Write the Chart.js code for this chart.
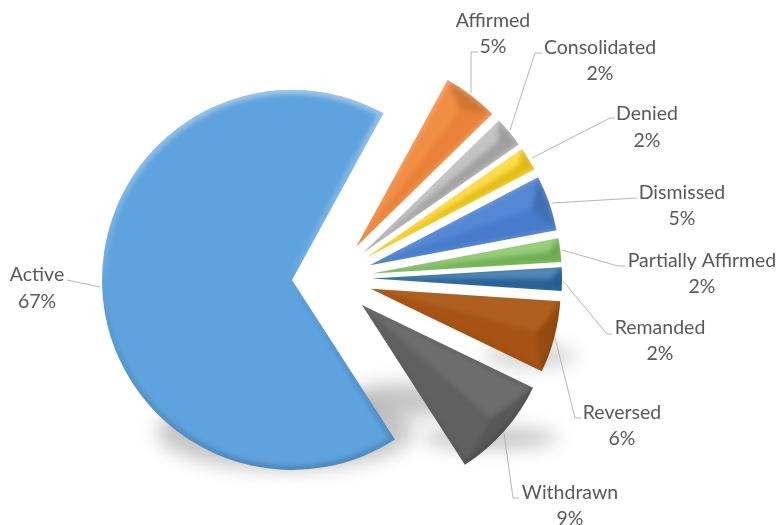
<!DOCTYPE html>
<html>
<head>
<meta charset="utf-8">
<style>
html,body{margin:0;padding:0;background:#fff;}
#wrap{position:relative;width:783px;height:525px;}
</style>
<script src="https://cdn.jsdelivr.net/npm/chart.js@4"></script>
</head>
<body>
<div id="wrap"><canvas id="c" width="783" height="525"></canvas></div>
<script>
const categories = ["Active","Affirmed","Consolidated","Denied","Dismissed","Partially Affirmed","Remanded","Reversed","Withdrawn"];
const shares = [66.9,4.7,2.6,2.0,4.7,2.0,2.0,6.1,8.7];
const shareLabels = ["67%","5%","2%","2%","5%","2%","2%","6%","9%"];
const sliceColors = ["#5fa3de","#f1873a","#b4b4b4","#fdd21a","#4a80d2","#7dc35c","#2c6ca7","#ac5614","#646464"];

// label layout: centre of name line, centre of value line, leader polyline
const labelLayout = [
  {x:37, y1:275,y2:302,line:[[100,287],[67,280]]},
  {x:493,y1:21, y2:47, line:[[471,93],[471,52],[478,52]]},
  {x:600,y1:48, y2:74, line:[[510,130],[535,53],[542,53]]},
  {x:647,y1:114,y2:141,line:[[532,158],[610,118],[615,118]]},
  {x:682,y1:193,y2:219,line:[[552,203],[637,198]]},
  {x:702,y1:261,y2:287,line:[[562,250],[618,266],[625,266]]},
  {x:660,y1:328,y2:354,line:[[563,281],[607,334],[612,334]]},
  {x:622,y1:413,y2:439,line:[[555,338],[575,418],[581,418]]},
  {x:570,y1:493,y2:519,line:[[504,433],[513,498],[519,498]]}
];
// soft ground shadows: cx, cy, rx, ry, alpha
const groundShadows = [
  [285,432,128,38,.42],
  [405,400,62,17,.42],
  [490,438,68,11,.42],
  [530,356,46,11,.34]
];
const EXPLODE = 40;

// every slice is pushed out by the same distance, as in an exploded pie
const baseDraw = Chart.ArcElement.prototype.draw;
Chart.ArcElement.prototype.draw = function(ctx){
  const h = (this.startAngle+this.endAngle)/2;
  ctx.save();
  ctx.translate(Math.cos(h)*EXPLODE,Math.sin(h)*EXPLODE);
  baseDraw.call(this,ctx);
  ctx.restore();
};

function geom(arc){
  const h=(arc.startAngle+arc.endAngle)/2;
  return {h,ax:arc.x+Math.cos(h)*EXPLODE,ay:arc.y+Math.sin(h)*EXPLODE,
          R:arc.outerRadius,s:arc.startAngle,e:arc.endAngle};
}
const decor = {
  id:'decor',
  beforeDatasetsDraw(chart){
    const ctx=chart.ctx;
    ctx.save();
    ctx.filter='blur(9px)';
    groundShadows.forEach(([x,y,rx,ry,a])=>{
      ctx.fillStyle='rgba(120,120,120,'+a+')';
      ctx.beginPath();ctx.ellipse(x,y,rx,ry,0,0,Math.PI*2);ctx.fill();
    });
    ctx.restore();
    ctx.save();
    ctx.strokeStyle='#b5b5b5';ctx.lineWidth=1;
    labelLayout.forEach(l=>{
      ctx.beginPath();
      l.line.forEach((p,i)=>i?ctx.lineTo(p[0],p[1]):ctx.moveTo(p[0],p[1]));
      ctx.stroke();
    });
    ctx.restore();
  },
  afterDatasetsDraw(chart){
    const ctx=chart.ctx, arcs=chart.getDatasetMeta(0).data;
    arcs.forEach((arc,i)=>{
      const g=geom(arc),A=[g.ax+Math.cos(g.s)*g.R,g.ay+Math.sin(g.s)*g.R],
            B=[g.ax+Math.cos(g.e)*g.R,g.ay+Math.sin(g.e)*g.R];
      const sector=()=>{ctx.beginPath();ctx.moveTo(g.ax,g.ay);ctx.arc(g.ax,g.ay,g.R,g.s,g.e);ctx.closePath();};
      ctx.save();
      sector();ctx.clip();
      if(i>0){
        const sweep=g.e-g.s, thin=sweep<0.2;
        const sn=Math.sin(sweep/2),k=Math.min(18,g.R*sn/(1+sn));
        const P=[g.ax+Math.cos(g.h)*(g.R-k),g.ay+Math.sin(g.h)*(g.R-k)];
        ctx.save();
        ctx.filter='blur(2.5px)';
        ctx.fillStyle='rgba(0,0,0,.13)';
        ctx.beginPath();ctx.moveTo(P[0],P[1]);ctx.lineTo(A[0],A[1]);ctx.arc(g.ax,g.ay,g.R+4,g.s,g.e);ctx.lineTo(B[0],B[1]);ctx.closePath();ctx.fill();
        ctx.fillStyle=thin?'rgba(255,255,255,.2)':'rgba(255,255,255,.06)';
        ctx.beginPath();ctx.moveTo(g.ax,g.ay);ctx.lineTo(A[0],A[1]);ctx.lineTo(P[0],P[1]);ctx.closePath();ctx.fill();
        ctx.fillStyle=thin?'rgba(0,0,0,.1)':'rgba(0,0,0,.03)';
        ctx.beginPath();ctx.moveTo(g.ax,g.ay);ctx.lineTo(B[0],B[1]);ctx.lineTo(P[0],P[1]);ctx.closePath();ctx.fill();
        ctx.restore();
      }
      const top=g.ay-g.R,bot=g.ay+g.R,grad=ctx.createLinearGradient(0,top,0,bot);
      grad.addColorStop(0,'rgba(255,255,255,.38)');
      grad.addColorStop(.45,'rgba(255,255,255,.1)');
      grad.addColorStop(.6,'rgba(0,0,0,.04)');
      grad.addColorStop(1,'rgba(0,0,0,.16)');
      ctx.filter='blur(2px)';
      ctx.strokeStyle=grad;ctx.lineWidth=i===0?9:4;
      sector();ctx.stroke();
      ctx.restore();
    });
    ctx.save();
    ctx.fillStyle='#595959';
    ctx.font='19.5px Lato, "Open Sans", sans-serif';
    ctx.textAlign='center';ctx.textBaseline='middle';
    labelLayout.forEach((l,i)=>{
      ctx.fillText(categories[i],l.x,l.y1);
      ctx.fillText(shareLabels[i],l.x,l.y2);
    });
    ctx.restore();
  }
};

new Chart(document.getElementById('c'),{
  type:'pie',
  data:{labels:categories,datasets:[{
    data:shares,
    backgroundColor:sliceColors,
    borderWidth:0,
    clip:false
  }]},
  options:{
    responsive:false,
    animation:false,
    rotation:147.2,
    layout:{padding:{left:142,right:261,top:88.5,bottom:56.5}},
    plugins:{legend:{display:false},tooltip:{enabled:false},title:{display:false}}
  },
  plugins:[decor]
});
</script>
</body>
</html>
